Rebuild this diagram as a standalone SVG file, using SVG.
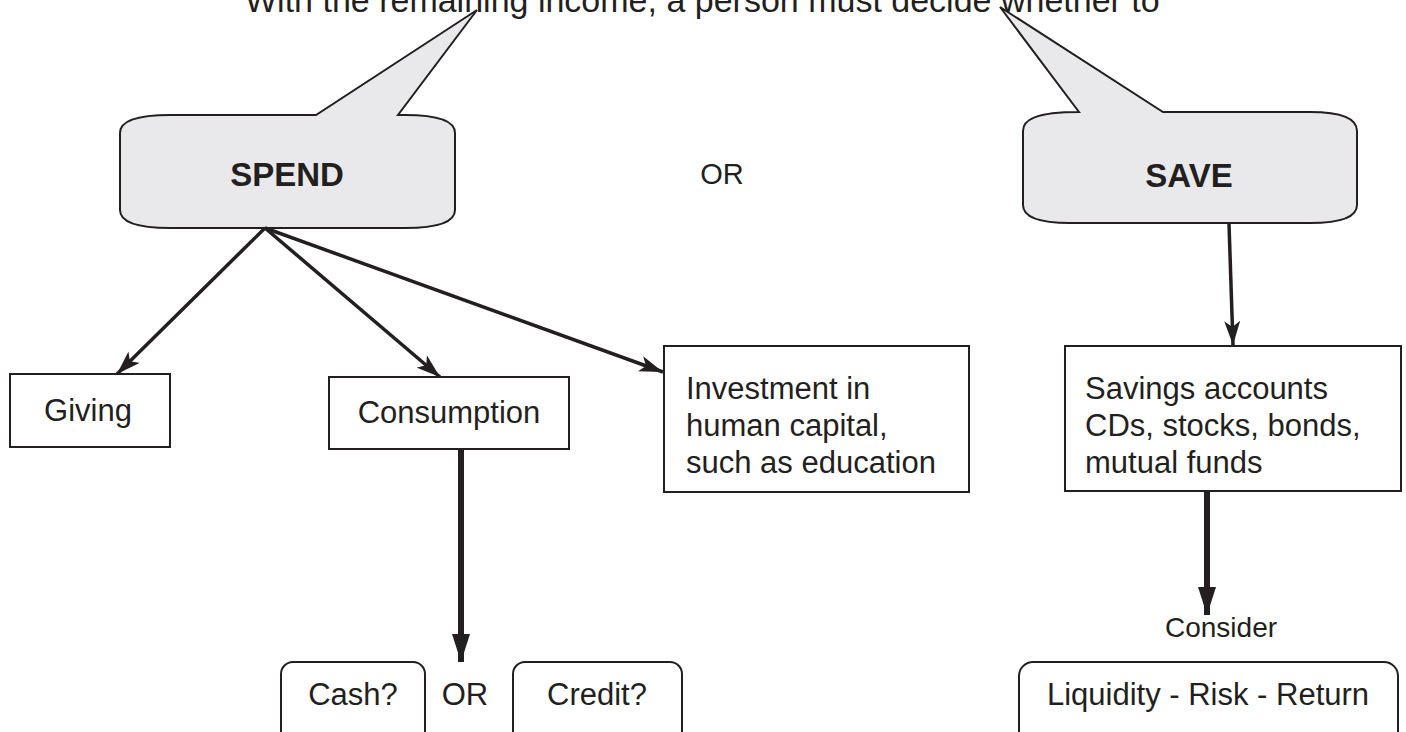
<svg xmlns="http://www.w3.org/2000/svg" width="1406" height="732" viewBox="0 0 1406 732">
<defs>
<style>
text{font-family:"Liberation Sans",Arial,Helvetica,sans-serif;fill:#231f20}
.t{font-size:31px}
.b{font-size:33px;font-weight:bold}
.box{fill:#fff;stroke:#231f20;stroke-width:2}
.bub{fill:#e9e9eb;stroke:#231f20;stroke-width:2;stroke-linejoin:miter}
.thin{fill:none;stroke:#231f20;stroke-width:3.5}
.thick{fill:none;stroke:#231f20;stroke-width:6}
</style>
<marker id="ah" viewBox="0 0 24 16" refX="24" refY="8" markerWidth="24" markerHeight="16" markerUnits="userSpaceOnUse" orient="auto">
<path d="M0,0 L24,8 L0,16 L6,8 Z" fill="#231f20"/>
</marker>
<marker id="ahb" viewBox="0 0 28 18" refX="28" refY="9" markerWidth="28" markerHeight="18" markerUnits="userSpaceOnUse" orient="auto">
<path d="M0,0 L28,9 L0,18 Z" fill="#231f20"/>
</marker>
</defs>
<rect width="1406" height="732" fill="#fff"/>
<text class="t" x="245" y="12" style="font-size:34px">With the remaining income, a person must decide whether to</text>
<g id="spend">
<path class="bub" d="M170,115 L316,115 L477,10 L398,115 L405,115 C440,115 455,122 455,133 L455,210 C455,221 440,228 405,228 L170,228 C135,228 120,221 120,210 L120,133 C120,122 135,115 170,115 Z"/>
<text class="b" x="287" y="186" text-anchor="middle">SPEND</text>
</g>
<g id="or-top"><text class="t" x="722" y="184" text-anchor="middle" style="font-size:29px">OR</text></g>
<g id="save">
<path class="bub" d="M1079,112 L1000,7 L1163,112 L1310,112 C1345,112 1357,120 1357,131 L1357,205 C1357,216 1345,223 1310,223 L1070,223 C1035,223 1023,216 1023,205 L1023,131 C1023,120 1035,112 1079,112 Z"/>
<text class="b" x="1189" y="187" text-anchor="middle">SAVE</text>
</g>
<g id="giving">
<rect class="box" x="10" y="374" width="160" height="73"/>
<text class="t" x="88" y="421" text-anchor="middle">Giving</text>
</g>
<g id="consumption">
<rect class="box" x="329" y="377" width="240" height="72"/>
<text class="t" x="449" y="423" text-anchor="middle">Consumption</text>
</g>
<g id="investment">
<rect class="box" x="664" y="346" width="305" height="146"/>
<text class="t" x="686" y="399">Investment in</text>
<text class="t" x="686" y="436">human capital,</text>
<text class="t" x="686" y="473">such as education</text>
</g>
<g id="savings">
<rect class="box" x="1065" y="346" width="336" height="145"/>
<text class="t" x="1085" y="399">Savings accounts</text>
<text class="t" x="1085" y="436">CDs, stocks, bonds,</text>
<text class="t" x="1085" y="473">mutual funds</text>
</g>
<g id="cash">
<rect class="box" x="281" y="662" width="144" height="90" rx="12"/>
<text class="t" x="353" y="705" text-anchor="middle">Cash?</text>
</g>
<g id="or-bottom"><text class="t" x="465" y="705" text-anchor="middle">OR</text></g>
<g id="credit">
<rect class="box" x="513" y="662" width="169" height="90" rx="12"/>
<text class="t" x="597" y="705" text-anchor="middle">Credit?</text>
</g>
<g id="consider"><text class="t" x="1221" y="637" text-anchor="middle" style="font-size:28px">Consider</text></g>
<g id="lrr">
<rect class="box" x="1019" y="662" width="379" height="90" rx="14"/>
<text class="t" x="1208" y="705" text-anchor="middle">Liquidity - Risk - Return</text>
</g>
<g id="connectors">
<line class="thin" x1="265" y1="228" x2="117" y2="374" marker-end="url(#ah)"/>
<line class="thin" x1="265" y1="228" x2="440" y2="377" marker-end="url(#ah)"/>
<line class="thin" x1="265" y1="228" x2="663" y2="372" marker-end="url(#ah)"/>
<line class="thin" x1="1229" y1="224" x2="1233" y2="345" marker-end="url(#ah)"/>
<line class="thick" x1="461" y1="449" x2="461" y2="662" marker-end="url(#ahb)"/>
<line class="thick" x1="1207" y1="491" x2="1207" y2="615" marker-end="url(#ahb)"/>
</g>
</svg>
